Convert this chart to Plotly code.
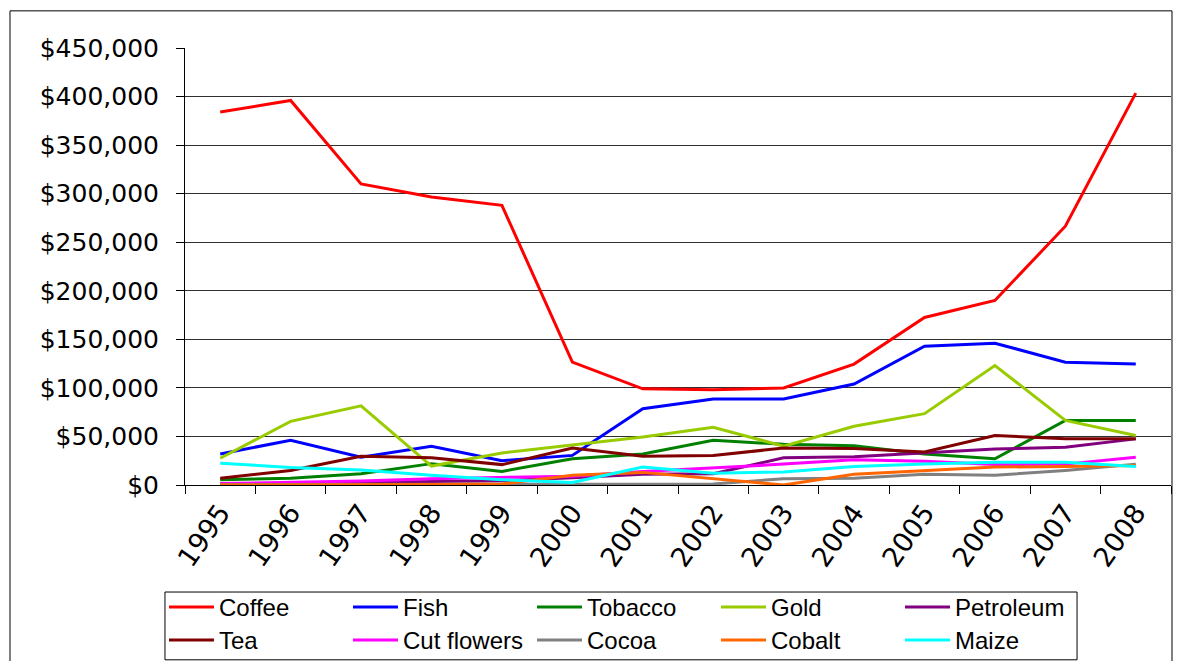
import plotly.graph_objects as go

years = [str(y) for y in range(1995, 2009)]

coffee = [384000, 396000, 310000, 296500, 288000, 126500, 99000, 98000, 100000, 124500, 172500, 190000, 266500, 403500]
fish = [32000, 46000, 28500, 40000, 25000, 30500, 78500, 88500, 88500, 104000, 143000, 146000, 126500, 124500]
tobacco = [5500, 7000, 11500, 22000, 14000, 27000, 32000, 46000, 42000, 40500, 32000, 27000, 66500, 66500]
gold = [27500, 65500, 81500, 19500, 33000, 41500, 49500, 59500, 40000, 60500, 73500, 123000, 66500, 51000]
petroleum = [1000, 1500, 2500, 3500, 4500, 7500, 11000, 11500, 28000, 29000, 33000, 37000, 39000, 47500]
tea = [7000, 15000, 29500, 28000, 21000, 38000, 29500, 30500, 38000, 37500, 34000, 51000, 47500, 47500]
cut_flowers = [1500, 3000, 4000, 6500, 7500, 9000, 14000, 17500, 21500, 26000, 24500, 21000, 21500, 28500]
cocoa = [500, 500, 500, 500, 500, 500, 1000, 1000, 6500, 7000, 11000, 10000, 15000, 21500]
cobalt = [0, 0, 500, 500, 1000, 10000, 13000, 6500, 0, 11000, 14500, 18500, 19000, 20000]
maize = [22500, 18000, 15500, 10000, 5500, 2500, 18500, 12000, 13500, 19000, 21500, 23500, 23500, 19000]

series = [
    ("Coffee", coffee, "#FF0000"),
    ("Fish", fish, "#0000FF"),
    ("Tobacco", tobacco, "#008000"),
    ("Gold", gold, "#99CC00"),
    ("Petroleum", petroleum, "#800080"),
    ("Tea", tea, "#800000"),
    ("Cut flowers", cut_flowers, "#FF00FF"),
    ("Cocoa", cocoa, "#808080"),
    ("Cobalt", cobalt, "#FF6600"),
    ("Maize", maize, "#00FFFF"),
]

fig = go.Figure()
for i, (name, vals, color) in enumerate(series):
    fig.add_trace(go.Scatter(
        x=years, y=vals, name=name, mode="lines",
        line=dict(color=color, width=3),
        legend="legend" if i < 5 else "legend2",
    ))

sans = "Liberation Sans, Arial, sans-serif"
wide = "DejaVu Sans, sans-serif"

legend_row = dict(
    orientation="h",
    x=-0.0213, xanchor="left", yanchor="top",
    entrywidth=124, entrywidthmode="pixels",
    itemwidth=45,
    borderwidth=0, bgcolor="rgba(0,0,0,0)",
    font=dict(size=24, family=sans),
    tracegroupgap=0,
    traceorder="normal",
)

fig.update_layout(
    width=1182, height=661,
    margin=dict(l=185, r=11, t=48, b=176, autoexpand=False),
    paper_bgcolor="white",
    plot_bgcolor="white",
    font=dict(family=sans, color="black"),
    showlegend=True,
    legend=dict(legend_row, y=-0.2288),
    legend2=dict(legend_row, y=-0.3043),
    xaxis=dict(
        type="category",
        range=[-0.5, 13.5],
        tickson="boundaries",
        ticks="outside", ticklen=8, tickcolor="black", tickwidth=1,
        tickangle=-55,
        tickfont=dict(size=27, family=wide),
        showline=True, linecolor="black", linewidth=1,
        showgrid=False,
        zeroline=False,
    ),
    yaxis=dict(
        range=[0, 450000],
        dtick=50000,
        tickprefix="$", tickformat=",d",
        ticks="outside", ticklen=8, tickcolor="black", tickwidth=1,
        ticklabelstandoff=12,
        tickfont=dict(size=25, family=wide),
        showline=True, linecolor="black", linewidth=1,
        showgrid=True, gridcolor="#303030", gridwidth=1,
        zeroline=False,
    ),
)

# chart-area border
fig.add_shape(
    type="rect", xref="paper", yref="paper",
    x0=-0.1775, x1=1.001, y0=-0.45, y1=1.085,
    line=dict(color="black", width=1), fillcolor="rgba(0,0,0,0)",
    layer="below",
)
# legend box
fig.add_shape(
    type="rect", xref="paper", yref="paper",
    x0=-0.0203, x1=0.9047, y0=-0.40, y1=-0.2449,
    line=dict(color="black", width=1), fillcolor="white",
    layer="below",
)

fig.write_html("out.html")
